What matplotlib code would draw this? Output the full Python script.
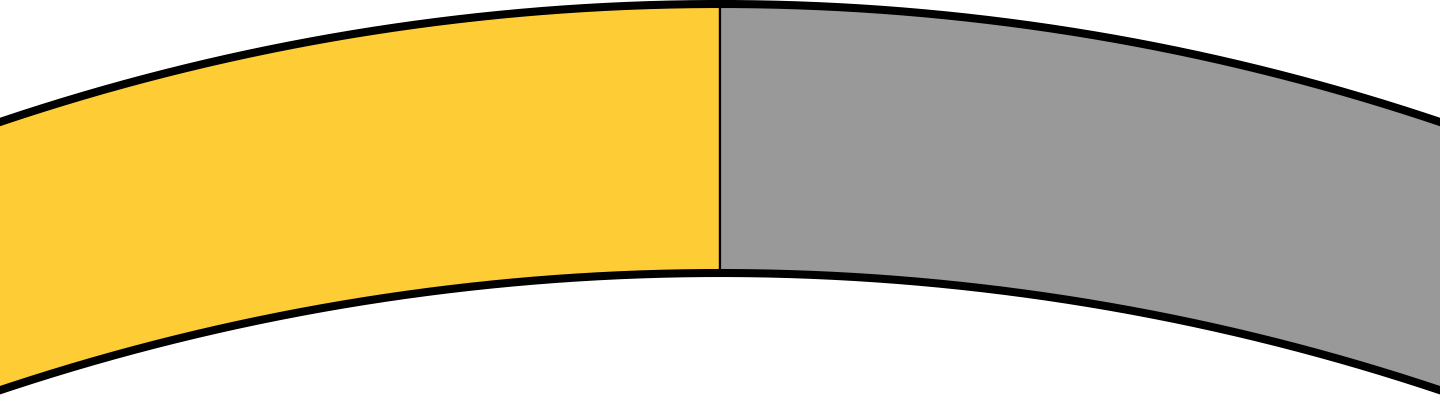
import numpy as np
import matplotlib.pyplot as plt
from matplotlib.patches import Polygon

labels = ['A', 'B']
values = [50, 50]
colors = ['#FECD35', '#999999']

r_out = 2256     # outer ring radius
r_in = 2270      # inner ring radius
c_in = -283      # inner circle centre, shifted down

fig = plt.figure(figsize=(14.4, 4), dpi=100)
ax = fig.add_axes([0, 0, 1, 1])

fr = np.array(values) / sum(values)
start = 90.0
for v, c in zip(fr, colors):
    end = start + 360 * v
    t = np.radians(np.linspace(start, end, 2000))
    xo, yo = r_out * np.cos(t), r_out * np.sin(t)
    xi, yi = r_in * np.cos(t[::-1]), c_in + r_in * np.sin(t[::-1])
    pts = np.column_stack([np.r_[xo, xi], np.r_[yo, yi]])
    ax.add_patch(Polygon(pts, closed=True, facecolor=c, edgecolor='black', lw=1.6))
    start = end

t = np.radians(np.linspace(0, 360, 4000))
ax.plot(r_out * np.cos(t), r_out * np.sin(t), color='black', lw=5.8)
ax.plot(r_in * np.cos(t), c_in + r_in * np.sin(t), color='black', lw=5.8)

ax.set_xlim(-720, 720)
ax.set_ylim(r_out + 4 - 400, r_out + 4)
ax.set_aspect('equal')
ax.axis('off')
fig.savefig('out.png', dpi=100, facecolor='white')
